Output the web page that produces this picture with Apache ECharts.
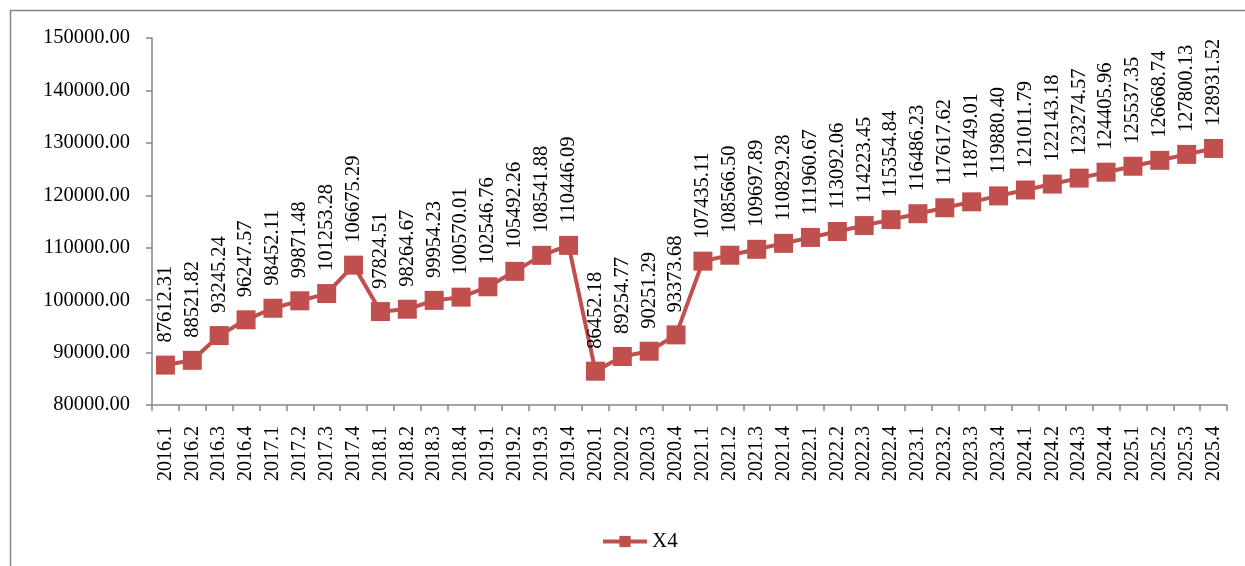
<!DOCTYPE html>
<html>
<head>
<meta charset="utf-8">
<script src="https://cdn.jsdelivr.net/npm/echarts@6/dist/echarts.min.js"></script>
<style>
  html, body { margin: 0; padding: 0; background: #fff; }
  #chart { width: 1245px; height: 566px; }
</style>
</head>
<body>
<div id="chart"></div>
<script>
// Quarterly labels, 2016 Q1 through 2025 Q4
const quarters = [
  '2016.1','2016.2','2016.3','2016.4','2017.1','2017.2','2017.3','2017.4',
  '2018.1','2018.2','2018.3','2018.4','2019.1','2019.2','2019.3','2019.4',
  '2020.1','2020.2','2020.3','2020.4','2021.1','2021.2','2021.3','2021.4',
  '2022.1','2022.2','2022.3','2022.4','2023.1','2023.2','2023.3','2023.4',
  '2024.1','2024.2','2024.3','2024.4','2025.1','2025.2','2025.3','2025.4'
];

// X4 series values
const x4Values = [
  87612.31, 88521.82, 93245.24, 96247.57, 98452.11, 99871.48, 101253.28, 106675.29,
  97824.51, 98264.67, 99954.23, 100570.01, 102546.76, 105492.26, 108541.88, 110446.09,
  86452.18, 89254.77, 90251.29, 93373.68, 107435.11, 108566.50, 109697.89, 110829.28,
  111960.67, 113092.06, 114223.45, 115354.84, 116486.23, 117617.62, 118749.01, 119880.40,
  121011.79, 122143.18, 123274.57, 124405.96, 125537.35, 126668.74, 127800.13, 128931.52
];

// Value axis range
const yMin = 80000;
const yMax = 150000;
const yStep = 10000;

const seriesName = 'X4';
const lineColor = '#C0504D';
const axisGrey = '#868686';
const serif = '"Liberation Serif", "Times New Roman", serif';

const chart = echarts.init(document.getElementById('chart'), null, { renderer: 'canvas' });

chart.setOption({
  backgroundColor: '#ffffff',
  animation: false,
  graphic: [
    {
      type: 'polyline',
      silent: true,
      shape: { points: [[10.5, 566], [10.5, 10.5], [1245, 10.5]] },
      style: { stroke: axisGrey, lineWidth: 1.5, fill: null }
    }
  ],
  grid: { left: 152, right: 18, top: 38, bottom: 161, containLabel: false },
  legend: {
    data: [seriesName],
    left: 596,
    top: 526,
    itemWidth: 44,
    itemHeight: 14,
    itemGap: 6,
    lineStyle: { width: 4 },
    textStyle: { fontFamily: serif, fontSize: 21, color: '#000' }
  },
  xAxis: {
    type: 'category',
    data: quarters,
    boundaryGap: true,
    axisLine: { show: true, lineStyle: { color: axisGrey, width: 1.5 } },
    axisTick: { show: true, length: 6, lineStyle: { color: axisGrey, width: 1.5 } },
    axisLabel: {
      interval: 0,
      rotate: 90,
      margin: 21,
      fontFamily: serif,
      fontSize: 20,
      color: '#000'
    },
    splitLine: { show: false }
  },
  yAxis: {
    type: 'value',
    min: yMin,
    max: yMax,
    interval: yStep,
    axisLine: { show: true, lineStyle: { color: axisGrey, width: 1.5 } },
    axisTick: { show: true, length: 6, lineStyle: { color: axisGrey, width: 1.5 } },
    axisLabel: {
      margin: 22,
      fontFamily: serif,
      fontSize: 20.5,
      color: '#000',
      formatter: v => v.toFixed(2)
    },
    splitLine: { show: false }
  },
  series: [
    {
      name: seriesName,
      type: 'line',
      data: x4Values,
      symbol: 'rect',
      symbolSize: 19,
      lineStyle: { color: lineColor, width: 4 },
      itemStyle: { color: lineColor },
      label: {
        show: true,
        position: 'top',
        distance: 13,
        rotate: 90,
        align: 'left',
        verticalAlign: 'middle',
        fontFamily: serif,
        fontSize: 20.5,
        color: '#000',
        formatter: p => p.value.toFixed(2)
      }
    }
  ]
});
</script>
</body>
</html>
